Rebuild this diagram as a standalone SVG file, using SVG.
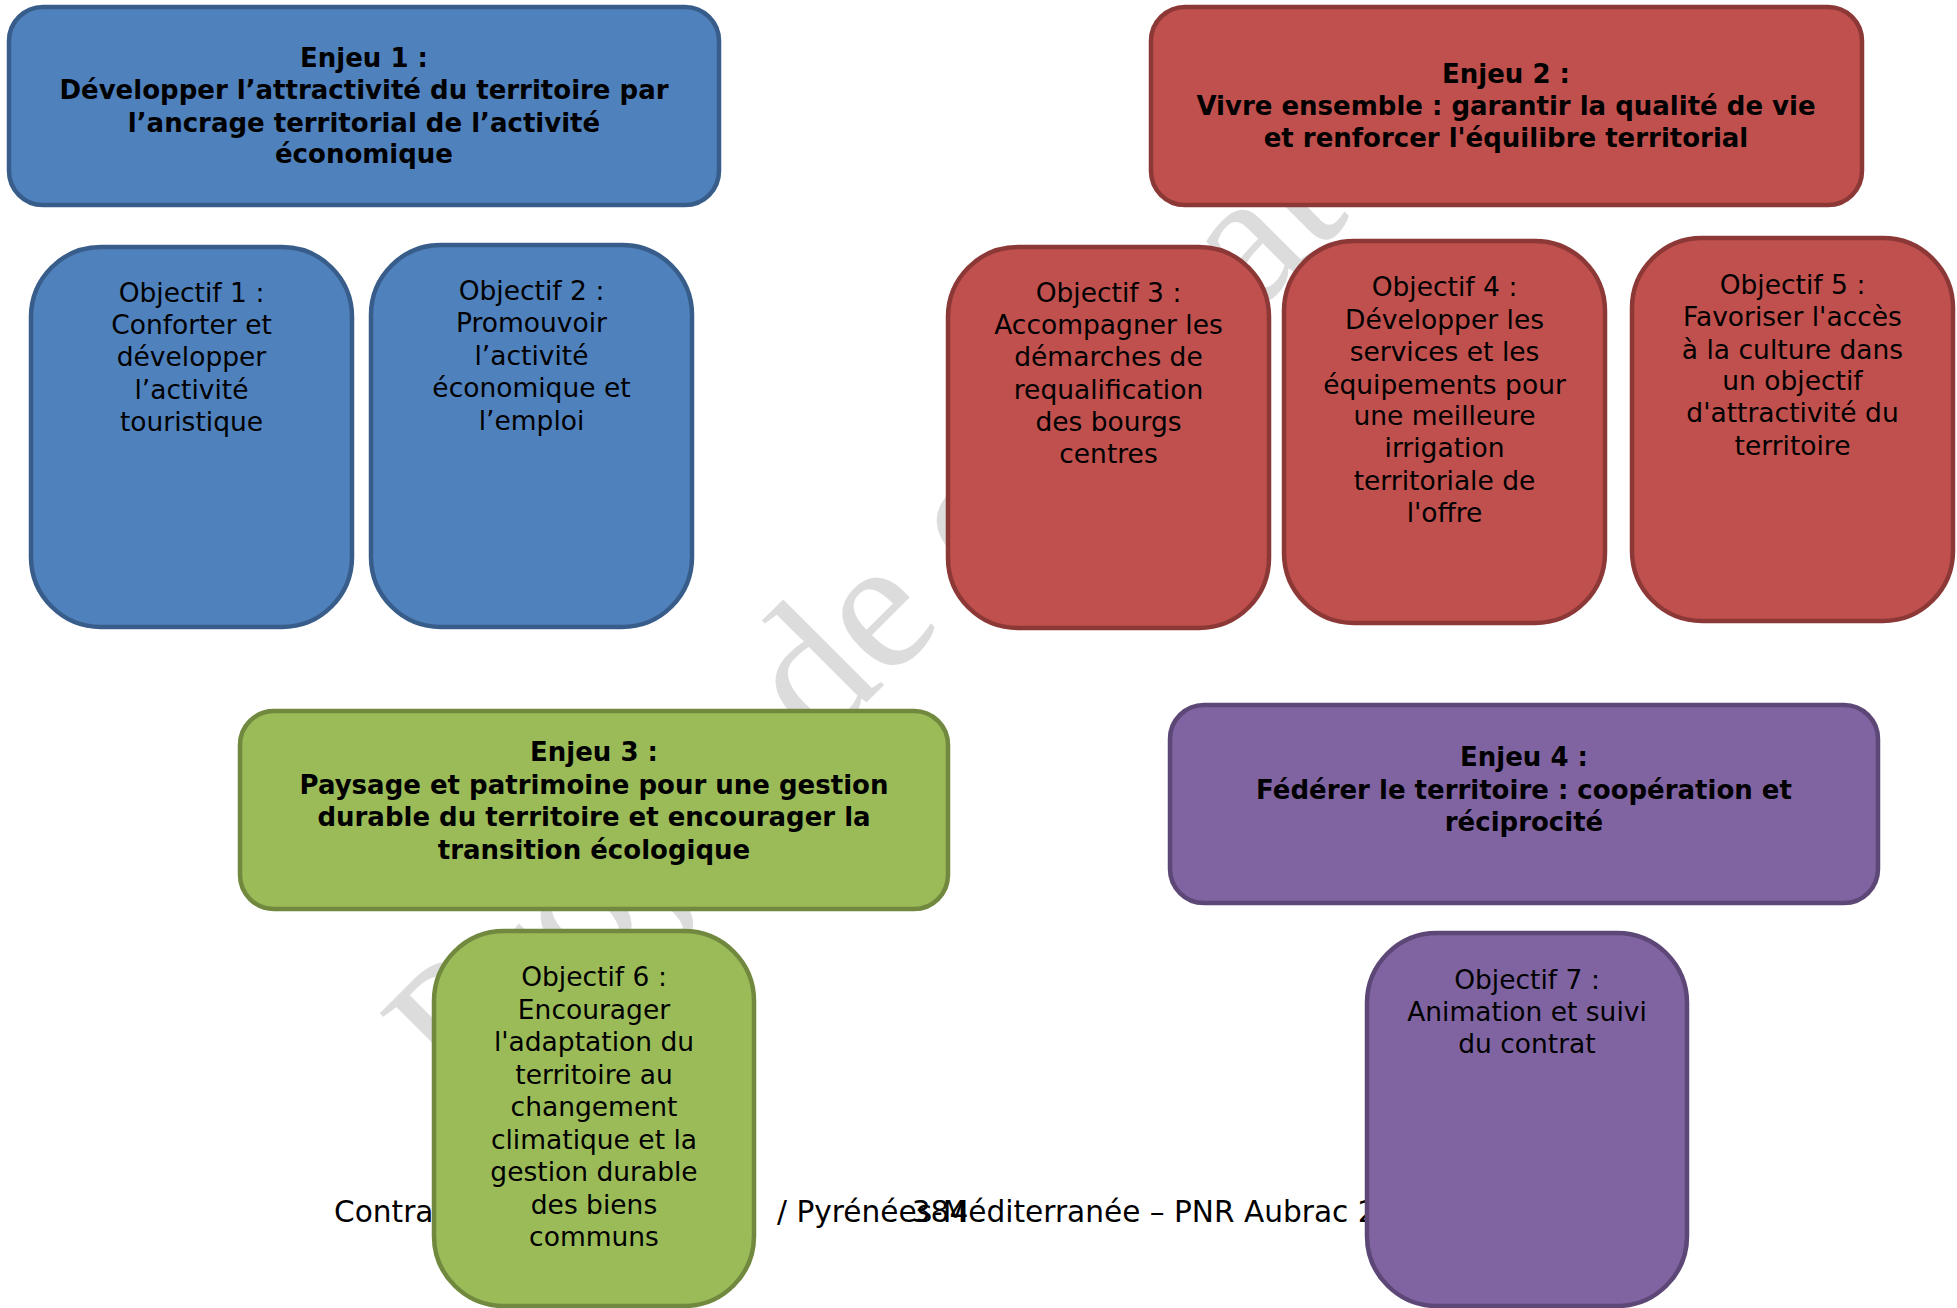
<svg xmlns="http://www.w3.org/2000/svg" width="1957" height="1308" viewBox="0 0 1957 1308">
<style>
.wm{font-family:"Liberation Serif",serif;font-size:190px;fill:#dcdcdc}
.ft{font-family:"DejaVu Sans",Verdana,sans-serif;font-size:29.6px;fill:#000}
.bx{stroke-width:4.5}
.blue{fill:#4f81bd;stroke:#385d8a}
.red{fill:#c0504d;stroke:#8c3836}
.green{fill:#9bbb59;stroke:#71893f}
.purple{fill:#8064a2;stroke:#5c4776}
.t{font-family:"DejaVu Sans",Verdana,sans-serif;font-size:26px;font-weight:bold;fill:#000;text-anchor:middle}
.o{font-family:"DejaVu Sans",Verdana,sans-serif;font-size:26.5px;fill:#000;text-anchor:middle}
</style>
<rect width="1957" height="1308" fill="#fff"/>
<text class="wm" transform="translate(464,1105) rotate(-45)">Projet de contrat</text>
<text class="ft" x="334" y="1222">Contrat Territorial Occitanie <tspan x="777">/ Pyrénées-Méditerranée – PNR Aubrac 2022-2028</tspan></text>
<text class="ft" x="940" y="1222" text-anchor="middle">384</text>
<g id="connectors"></g>
<g id="enjeu1">
<rect class="bx blue" x="9" y="7" width="710" height="198" rx="34"/>
<text class="t"><tspan x="364" y="67">Enjeu 1 :</tspan><tspan x="364" y="99">Développer l’attractivité du territoire par</tspan><tspan x="364" y="132">l’ancrage territorial de l’activité</tspan><tspan x="364" y="163">économique</tspan></text>
</g>
<g id="enjeu2">
<rect class="bx red" x="1151" y="7" width="711" height="198" rx="34"/>
<text class="t"><tspan x="1506" y="83">Enjeu 2 :</tspan><tspan x="1506" y="115">Vivre ensemble : garantir la qualité de vie</tspan><tspan x="1506" y="147">et renforcer l'équilibre territorial</tspan></text>
</g>
<g id="objectif1">
<rect class="bx blue" x="31" y="247" width="321" height="380" rx="70"/>
<text class="o"><tspan x="191.5" y="302">Objectif 1 :</tspan><tspan x="191.5" y="334">Conforter et</tspan><tspan x="191.5" y="366">développer</tspan><tspan x="191.5" y="399">l’activité</tspan><tspan x="191.5" y="431">touristique</tspan></text>
</g>
<g id="objectif2">
<rect class="bx blue" x="371" y="245" width="321" height="382" rx="70"/>
<text class="o"><tspan x="531.5" y="300">Objectif 2 :</tspan><tspan x="531.5" y="332">Promouvoir</tspan><tspan x="531.5" y="365">l’activité</tspan><tspan x="531.5" y="397">économique et</tspan><tspan x="531.5" y="430">l’emploi</tspan></text>
</g>
<g id="objectif3">
<rect class="bx red" x="948" y="247" width="321" height="381" rx="70"/>
<text class="o"><tspan x="1108.5" y="302">Objectif 3 :</tspan><tspan x="1108.5" y="334">Accompagner les</tspan><tspan x="1108.5" y="366">démarches de</tspan><tspan x="1108.5" y="399">requalification</tspan><tspan x="1108.5" y="431">des bourgs</tspan><tspan x="1108.5" y="463">centres</tspan></text>
</g>
<g id="objectif4">
<rect class="bx red" x="1284" y="241" width="321" height="382" rx="70"/>
<text class="o"><tspan x="1444.5" y="296">Objectif 4 :</tspan><tspan x="1444.5" y="329">Développer les</tspan><tspan x="1444.5" y="361">services et les</tspan><tspan x="1444.5" y="394">équipements pour</tspan><tspan x="1444.5" y="425">une meilleure</tspan><tspan x="1444.5" y="457">irrigation</tspan><tspan x="1444.5" y="490">territoriale de</tspan><tspan x="1444.5" y="522">l'offre</tspan></text>
</g>
<g id="objectif5">
<rect class="bx red" x="1632" y="238" width="321" height="383" rx="70"/>
<text class="o"><tspan x="1792.5" y="294">Objectif 5 :</tspan><tspan x="1792.5" y="326">Favoriser l'accès</tspan><tspan x="1792.5" y="359">à la culture dans</tspan><tspan x="1792.5" y="390">un objectif</tspan><tspan x="1792.5" y="422">d'attractivité du</tspan><tspan x="1792.5" y="455">territoire</tspan></text>
</g>
<g id="enjeu3">
<rect class="bx green" x="240" y="711" width="708" height="198" rx="34"/>
<text class="t"><tspan x="594" y="761">Enjeu 3 :</tspan><tspan x="594" y="794">Paysage et patrimoine pour une gestion</tspan><tspan x="594" y="826">durable du territoire et encourager la</tspan><tspan x="594" y="859">transition écologique</tspan></text>
</g>
<g id="enjeu4">
<rect class="bx purple" x="1170" y="705" width="708" height="198" rx="34"/>
<text class="t"><tspan x="1524" y="766">Enjeu 4 :</tspan><tspan x="1524" y="799">Fédérer le territoire : coopération et</tspan><tspan x="1524" y="831">réciprocité</tspan></text>
</g>
<g id="objectif6">
<rect class="bx green" x="434" y="931" width="320" height="375" rx="70"/>
<text class="o"><tspan x="594" y="986">Objectif 6 :</tspan><tspan x="594" y="1019">Encourager</tspan><tspan x="594" y="1051">l'adaptation du</tspan><tspan x="594" y="1084">territoire au</tspan><tspan x="594" y="1116">changement</tspan><tspan x="594" y="1149">climatique et la</tspan><tspan x="594" y="1181">gestion durable</tspan><tspan x="594" y="1214">des biens</tspan><tspan x="594" y="1246">communs</tspan></text>
</g>
<g id="objectif7">
<rect class="bx purple" x="1367" y="933" width="320" height="373" rx="70"/>
<text class="o"><tspan x="1527" y="989">Objectif 7 :</tspan><tspan x="1527" y="1021">Animation et suivi</tspan><tspan x="1527" y="1053">du contrat</tspan></text>
</g>
</svg>
